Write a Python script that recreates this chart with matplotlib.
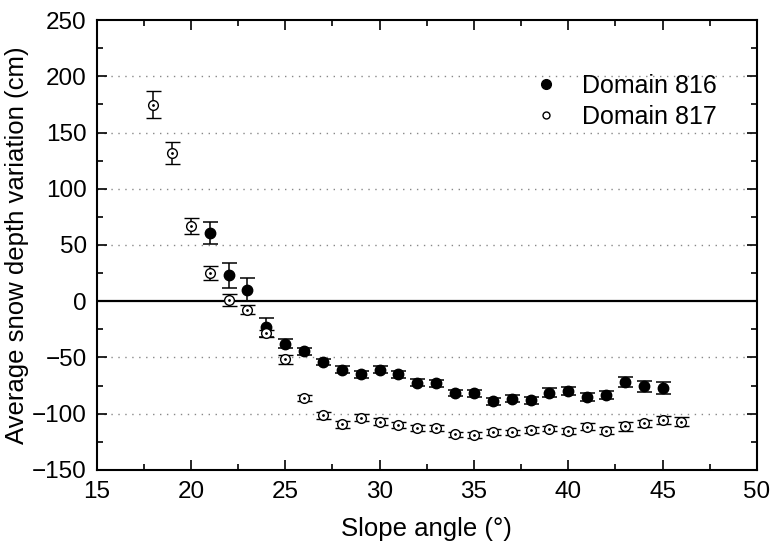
import matplotlib
matplotlib.use("Agg")
import matplotlib.pyplot as plt
from matplotlib.ticker import MultipleLocator
from matplotlib.lines import Line2D

plt.rcParams["font.family"] = ["Liberation Sans", "DejaVu Sans"]

# Domain 816 (filled)
x816 = [21, 22, 23, 24, 25, 26, 27, 28, 29, 30, 31, 32, 33, 34, 35, 36, 37, 38, 39, 40, 41, 42, 43, 44, 45]
y816 = [60.4, 23.1, 10.4, -23.1, -38, -44.7, -54, -61, -65, -61, -65, -72.6, -73, -81.5, -82,
        -88.9, -86.8, -88, -81.2, -79.7, -85.3, -83.3, -71.7, -75.6, -77]
e816 = [9.9, 11.3, 10.2, 8.4, 4, 3, 3, 3, 3, 3, 3, 3, 3, 3, 3,
        3, 3, 3, 3.7, 3.5, 3.5, 3.5, 4.4, 5, 5.6]

# Domain 817 (open)
x817 = [18, 19, 20, 21, 22, 23, 24, 25, 26, 27, 28, 29, 30, 31, 32, 33, 34, 35, 36, 37, 38, 39, 40, 41, 42, 43, 44, 45, 46]
y817 = [174.8, 131.6, 66.7, 25.2, 1.2, -7.4, -28.7, -51.8, -86, -101.6, -109.6, -103.7, -107, -110, -113, -113,
        -118.5, -119, -116.1, -116.7, -114.7, -113.2, -115.6, -111.4, -115, -111.1, -108.7, -106, -107.2]
e817 = [11.9, 9.8, 7.3, 6, 5.2, 4, 3, 4, 3, 3, 3, 3, 3, 2.5, 2.5, 2.5,
        2.5, 2.5, 2.5, 2.5, 2.5, 2.5, 2.5, 3, 3, 4, 3.5, 3.6, 4.1]

series_labels = ["Domain 816", "Domain 817"]

fig = plt.figure(figsize=(7.74, 5.42), dpi=100)
ax = fig.add_axes([0.1247, 0.133, 0.978 - 0.1247, 0.963 - 0.133])

ax.axhline(0, color="black", lw=1.6, zorder=1)
for v in [-100, -50, 50, 100, 150, 200]:
    ax.axhline(v, color="#888888", lw=1.0, ls=(0, (1, 4)), zorder=0)

ax.errorbar(x816, y816, yerr=e816, fmt="o", color="black", mfc="black", mec="black",
            ms=7.5, capsize=5.4, elinewidth=1.1, capthick=1.1, zorder=3)
ax.errorbar(x817, y817, yerr=e817, fmt="o", color="black", mfc="white", mec="black",
            ms=7, mew=1.0, capsize=5.4, elinewidth=1.1, capthick=1.1, zorder=3)
ax.plot(x817, y817, ls="none", marker="o", ms=1, color="black", zorder=4)

ax.set_xlim(15, 50)
ax.set_ylim(-150, 250)
ax.xaxis.set_major_locator(MultipleLocator(5))
ax.xaxis.set_minor_locator(MultipleLocator(2.5))
ax.yaxis.set_major_locator(MultipleLocator(50))
ax.yaxis.set_minor_locator(MultipleLocator(25))
ax.tick_params(which="both", direction="in", top=True, right=True, width=1.2, labelsize=17.5)
ax.tick_params(which="major", length=7)
ax.tick_params(which="minor", length=4)
ax.tick_params(axis="x", pad=8)
ax.tick_params(axis="y", pad=7)
for s in ax.spines.values():
    s.set_linewidth(1.5)

ax.set_xlabel("Slope angle (\u00b0)", fontsize=18.5, labelpad=10)
ax.set_ylabel("Average snow depth variation (cm)", fontsize=18.5, labelpad=2)

handles = [
    Line2D([], [], ls="none", marker="o", ms=7, mfc="black", mec="black"),
    Line2D([], [], ls="none", marker="o", ms=5, mfc="white", mec="black", mew=1.0),
]
ax.legend(handles, series_labels, loc="upper left", bbox_to_anchor=(0.6627, 0.881),
          frameon=False, fontsize=18, borderpad=0, borderaxespad=0,
          handlelength=0.95, handletextpad=0.95, labelspacing=0.3)

fig.savefig("out.png", dpi=100)
